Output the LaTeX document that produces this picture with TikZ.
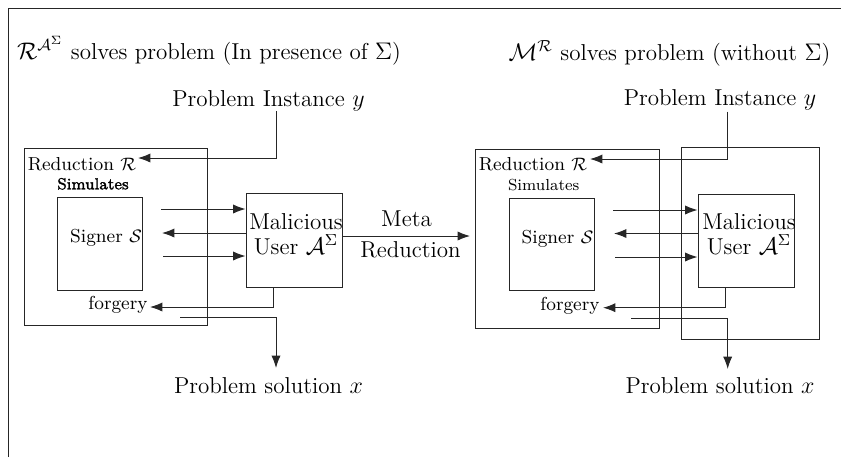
\documentclass[tikz,border=0pt]{standalone}
\usetikzlibrary{arrows.meta}
\newcommand\myfakebold[1]{\special{pdf:literal direct 2 Tr 0.14 w}#1\special{pdf:literal direct 0 Tr}}
\begin{document}
\begin{tikzpicture}[x=0.5pt,y=-0.5pt,
  ln/.style={draw=black!85,line width=0.5pt},
  arr/.style={ln,-{Latex[length=6.2pt,width=4.6pt]}},
  box/.style={ln,rectangle,inner sep=0pt},
  big/.style={font=\fontsize{11.5}{12.5}\selectfont,inner sep=0pt,anchor=base},
  mid/.style={font=\fontsize{9.4}{11}\selectfont,inner sep=0pt,anchor=base},
  sml/.style={font=\fontsize{8}{9.5}\selectfont,inner sep=0pt,anchor=base},
  two/.style={font=\fontsize{11.5}{12.5}\selectfont,inner sep=0pt,align=center,anchor=base}]
\useasboundingbox (0,0) rectangle (841,457);
% frame
\draw[ln] (8,457) -- (8,8) -- (841,8);
% titles
\node[big] (titleL) at (209,59) {$\mathcal{R}^{\mathcal{A}^\Sigma}$ solves problem (In presence of $\Sigma$)};
\node[big] (titleR) at (669.5,60) {$\mathcal{M}^{\mathcal{R}}$ solves problem (without $\Sigma$)};
% ---------- left ----------
\node[big] (piL) at (268.5,106) {Problem Instance $y$};
\node[big] (solL) at (268.5,393) {Problem solution $x$};
\node[box,minimum width=91.5pt,minimum height=88.5pt] (redL) at (115.5,236.5) {};
\node[box,minimum width=42.5pt,minimum height=46.5pt] (sigL) at (99.5,243.5) {};
\node[box,minimum width=48pt,minimum height=47pt] (malL) at (294,240) {};
\node[mid] (rtL) at (82,170) {Reduction $\mathcal{R}$};
\node[sml] (simL) at (93,189.3) {\myfakebold{Simulates}};
\node[mid] (sgL) at (106,242.7) {Signer $\mathcal{S}$};
\node[mid] (fgL) at (118,309) {forgery};
\node[two] (malTL) at (296,254) {Malicious\\User $\mathcal{A}^{\Sigma}$};
\coordinate (iLa) at (276,111);
\coordinate (iLb) at (138,158);
\draw[arr] (iLa) |- (iLb);
\coordinate (a1L) at (161,209);
\coordinate (a2L) at (162,233);
\coordinate (a3L) at (163,256);
\draw[arr] (a1L) -- (a1L -| malL.west);
\draw[arr] (a2L -| malL.west) -- (a2L);
\draw[arr] (a3L) -- (a3L -| malL.west);
\coordinate (fLc) at (273,307);
\coordinate (fL) at (150,307);
\draw[arr] (fLc |- malL.south) -- (fLc) -- (fL);
\coordinate (sLa) at (180,317);
\coordinate (sLb) at (276,368);
\draw[arr] (sLa) -| (sLb);
% meta reduction
\node[big] (metaT) at (406.5,226.7) {Meta};
\node[big] (metaB) at (410.5,257.3) {Reduction};
\coordinate (mTip) at (470,236);
\draw[arr] (mTip -| malL.east) -- (mTip);
% ---------- right ----------
\node[big] (piR) at (720,105) {Problem Instance $y$};
\node[big] (solR) at (720,393) {Problem solution $x$};
\node[box,minimum width=92pt,minimum height=89.5pt] (redR) at (567,238.5) {};
\node[box,minimum width=69pt,minimum height=96pt] (outR) at (750,243) {};
\node[box,minimum width=42.5pt,minimum height=46pt] (sigR) at (551.5,244) {};
\node[box,minimum width=48pt,minimum height=46.5pt] (malR) at (746,240.5) {};
\node[mid] (rtR) at (533,170.7) {Reduction $\mathcal{R}$};
\node[sml] (simR) at (543.7,190) {Simulates};
\node[mid] (sgR) at (557.5,243.3) {Signer $\mathcal{S}$};
\node[mid] (fgR) at (570,310) {forgery};
\node[two] (malTR) at (749,254.3) {Malicious\\User $\mathcal{A}^{\Sigma}$};
\coordinate (iRa) at (727.7,111.7);
\coordinate (iRb) at (590,159);
\draw[arr] (iRa) |- (iRb);
\coordinate (a1R) at (613,210);
\coordinate (a2R) at (614,233.5);
\coordinate (a3R) at (615,257);
\draw[arr] (a1R) -- (a1R -| malR.west);
\draw[arr] (a2R -| malR.west) -- (a2R);
\draw[arr] (a3R) -- (a3R -| malR.west);
\coordinate (fRc) at (725,307.7);
\coordinate (fR) at (603,307.7);
\draw[arr] (fRc |- malR.south) -- (fRc) -- (fR);
\coordinate (sRa) at (631,318);
\coordinate (sRb) at (727.7,369);
\draw[arr] (sRa) -| (sRb);
\end{tikzpicture}
\end{document}
